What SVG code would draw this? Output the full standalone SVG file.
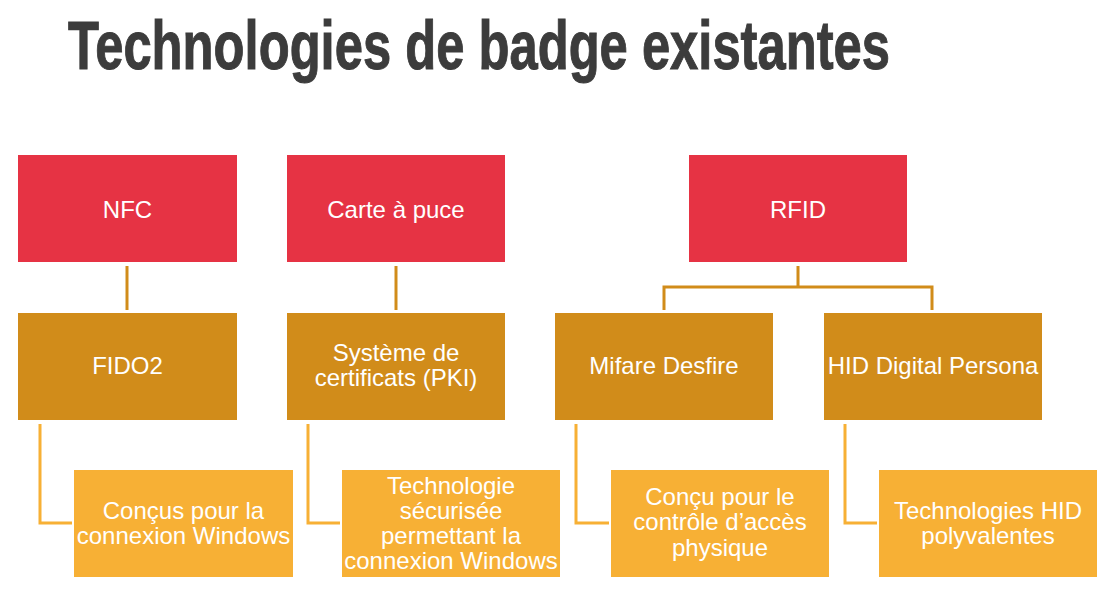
<svg xmlns="http://www.w3.org/2000/svg" width="1115" height="597" viewBox="0 0 1115 597">
<style>
.t{font-family:"Liberation Sans",Arial,sans-serif;font-size:24px;fill:#fff;text-anchor:middle}
.r{fill:#e63344}
.m{fill:#d18c1a}
.l{fill:#f7b035}
.c1{stroke:#d18c1a;stroke-width:3;fill:none}
.c2{stroke:#f7b035;stroke-width:3;fill:none}
.title{font-family:"Liberation Sans",Arial,sans-serif;font-weight:bold;font-size:52px;fill:#3c3c3c;stroke:#3c3c3c;stroke-width:0.8}
</style>
<rect width="1115" height="597" fill="#fff"/>
<text class="title" x="68" y="53.1" transform="scale(1,1.3)" textLength="822" lengthAdjust="spacingAndGlyphs">Technologies de badge existantes</text>
<g id="connectors">
<path class="c1" d="M127 266V310"/>
<path class="c1" d="M396 266V310"/>
<path class="c1" d="M798 266V287M664 310V287H932V310"/>
<path class="c2" d="M40 424V523H72"/>
<path class="c2" d="M308 424V523H340"/>
<path class="c2" d="M576 424V523H609"/>
<path class="c2" d="M845 424V523H877"/>
</g>
<g id="nfc"><rect class="r" x="18" y="155" width="219" height="107"/><text class="t" x="127.5" y="218">NFC</text></g>
<g id="carte"><rect class="r" x="287" y="155" width="218" height="107"/><text class="t" x="396" y="218">Carte à puce</text></g>
<g id="rfid"><rect class="r" x="689" y="155" width="218" height="107"/><text class="t" x="798" y="218">RFID</text></g>
<g id="fido2"><rect class="m" x="18" y="313" width="219" height="107"/><text class="t" x="127.5" y="374">FIDO2</text></g>
<g id="pki"><rect class="m" x="287" y="313" width="218" height="107"/><text class="t" x="396" y="361">Système de</text><text class="t" x="396" y="386">certificats (PKI)</text></g>
<g id="mifare"><rect class="m" x="555" y="313" width="218" height="107"/><text class="t" x="664" y="374">Mifare Desfire</text></g>
<g id="hid"><rect class="m" x="824" y="313" width="218" height="107"/><text class="t" x="933" y="374">HID Digital Persona</text></g>
<g id="d1"><rect class="l" x="74" y="470" width="219" height="107"/><text class="t" x="183.5" y="519">Conçus pour la</text><text class="t" x="183.5" y="544">connexion Windows</text></g>
<g id="d2"><rect class="l" x="342" y="470" width="218" height="107"/><text class="t" x="451" y="494">Technologie</text><text class="t" x="451" y="519">sécurisée</text><text class="t" x="451" y="544">permettant la</text><text class="t" x="451" y="569">connexion Windows</text></g>
<g id="d3"><rect class="l" x="611" y="470" width="218" height="107"/><text class="t" x="720" y="505">Conçu pour le</text><text class="t" x="720" y="530">contrôle d’accès</text><text class="t" x="720" y="556">physique</text></g>
<g id="d4"><rect class="l" x="879" y="470" width="218" height="107"/><text class="t" x="988" y="519">Technologies HID</text><text class="t" x="988" y="544">polyvalentes</text></g>
</svg>
